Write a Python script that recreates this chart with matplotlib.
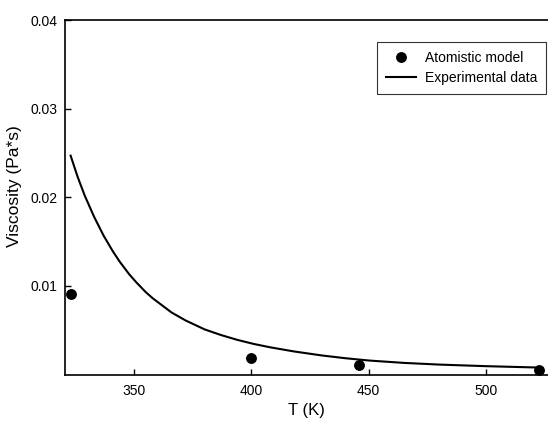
import numpy as np
import matplotlib.pyplot as plt

plt.rcParams['font.family'] = ['Liberation Sans', 'DejaVu Sans']

# atomistic model results
model_T = [323.2, 399.9, 445.9, 522.7]
model_visc = [0.0091, 0.0019, 0.0011, 0.0005]

# experimental curve
exp_T = [323, 326, 329, 333, 337, 341, 344, 348, 351, 355, 358, 362, 366,
         372, 380, 387, 394, 401, 408, 418, 430, 440, 450, 465, 480, 500, 523]
exp_visc = [0.0247, 0.0223, 0.0202, 0.0178, 0.0157, 0.0139, 0.0127, 0.0113,
            0.0104, 0.0093, 0.0086, 0.0078, 0.0070, 0.0061, 0.0051, 0.00446,
            0.00391, 0.00345, 0.00307, 0.00261, 0.00215, 0.00184, 0.00158,
            0.00131, 0.00112, 0.00094, 0.00078]

x_ticks = [350, 400, 450, 500]
y_ticks = [0.01, 0.02, 0.03, 0.04]


def main():
    fig = plt.figure(figsize=(5.48, 4.28), dpi=100)
    ax = fig.add_axes([0.1186, 0.125, 0.8814, 0.828])

    ax.plot(model_T, model_visc, 'o', color='black', markersize=6.8,
            label='Atomistic model')
    ax.plot(exp_T, exp_visc, '-', color='black', linewidth=1.5,
            label='Experimental data')

    ax.set_xlim(320.6, 526.4)
    ax.set_ylim(0, 0.04)
    ax.set_xticks(x_ticks)
    ax.set_yticks(y_ticks)
    ax.set_yticklabels(['%.2f' % v for v in y_ticks])
    ax.tick_params(direction='in', length=4, width=1, labelsize=10,
                   top=False, right=False)
    ax.tick_params(axis='x', pad=6.5)
    ax.tick_params(axis='y', pad=5.5)
    ax.spines['right'].set_visible(False)
    for s in ['left', 'bottom', 'top']:
        ax.spines[s].set_linewidth(1.2)

    ax.set_xlabel('T (K)', fontsize=12, labelpad=4)
    ax.set_ylabel('Viscosity (Pa*s)', fontsize=12.5)
    ax.yaxis.set_label_coords(-0.09, 0.532)

    leg = ax.legend(loc='upper right', bbox_to_anchor=(546 / 548, 1 - 42 / 428),
                    bbox_transform=fig.transFigure, fontsize=10,
                    fancybox=False, frameon=True, borderpad=0.65,
                    borderaxespad=0, handlelength=2.2, handletextpad=0.6,
                    labelspacing=0.4)
    leg.get_frame().set_edgecolor('black')
    leg.get_frame().set_linewidth(0.8)

    fig.savefig('out.png', dpi=100)


if __name__ == '__main__':
    main()
